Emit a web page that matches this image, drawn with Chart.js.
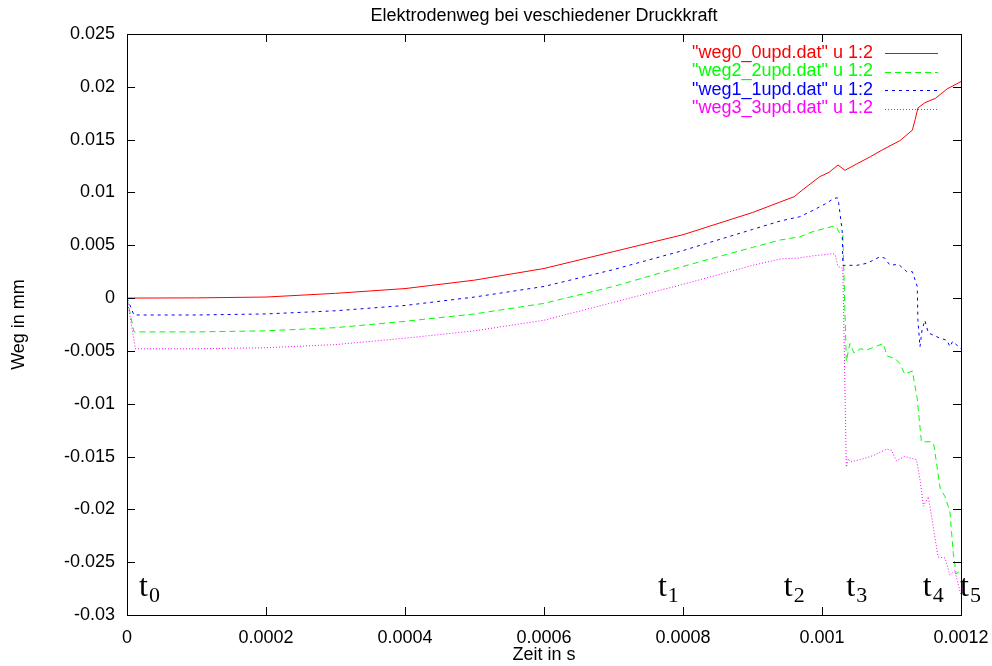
<!DOCTYPE html>
<html>
<head>
<meta charset="utf-8">
<script src="https://cdn.jsdelivr.net/npm/chart.js@4"></script>
<style>
  body { margin: 0; background: #fff; }
</style>
</head>
<body>
<canvas id="wegChart" width="992" height="666"></canvas>
<script>
const seriesNames = [
  '"weg0_0upd.dat" u 1:2',
  '"weg2_2upd.dat" u 1:2',
  '"weg1_1upd.dat" u 1:2',
  '"weg3_3upd.dat" u 1:2',
];
const seriesColors = ["#ff0000", "#00ff00", "#0000ff", "#ff00ff"];
const seriesDashes = [[], [6, 4], [3, 4], [1, 2]];

// time in s, displacement in mm
const weg0X = [0, 0.0001, 0.0002, 0.0003, 0.0004, 0.0005, 0.0006, 0.0007, 0.0008, 0.0009, 0.00094, 0.00096, 0.000973, 0.000987, 0.000997, 0.00101, 0.001023, 0.001033, 0.00105, 0.00107, 0.001086, 0.001112, 0.00113, 0.001134, 0.001138, 0.001148, 0.001163, 0.00118, 0.0012];
const weg0Y = [0, 0.00002, 0.0001, 0.00045, 0.0009, 0.0017, 0.0028, 0.0044, 0.006, 0.0081, 0.0091, 0.0096, 0.0103, 0.011, 0.0115, 0.0119, 0.0126, 0.0121, 0.0127, 0.0134, 0.014, 0.0149, 0.0159, 0.0169, 0.018, 0.0185, 0.0189, 0.0198, 0.0205];

const weg2X = [0, 0.00001, 0.0001, 0.0002, 0.0003, 0.0004, 0.0005, 0.0006, 0.0007, 0.0008, 0.0009, 0.00094, 0.000968, 0.000987, 0.001016, 0.00102, 0.001026, 0.00103, 0.001035, 0.00104, 0.001046, 0.001055, 0.001065, 0.001088, 0.001094, 0.001105, 0.001112, 0.001119, 0.00113, 0.001137, 0.001143, 0.001158, 0.001161, 0.00117, 0.001177, 0.001184, 0.001189, 0.001193, 0.0012];
const weg2Y = [0, -0.0032, -0.0032, -0.0031, -0.0028, -0.0022, -0.0015, -0.0005, 0.0011, 0.003, 0.0048, 0.0055, 0.0058, 0.0063, 0.0068, 0.0068, 0.0061, 0.006, -0.006, -0.0043, -0.0052, -0.0048, -0.0049, -0.0043, -0.0055, -0.0057, -0.0062, -0.0072, -0.0069, -0.0095, -0.0136, -0.0136, -0.0139, -0.018, -0.0188, -0.0202, -0.0242, -0.0261, -0.0258];

const weg1X = [0, 0.00001, 0.0001, 0.0002, 0.0003, 0.0004, 0.0005, 0.0006, 0.0007, 0.0008, 0.0009, 0.00094, 0.000968, 0.000987, 0.001007, 0.001016, 0.001022, 0.001024, 0.001029, 0.00103, 0.001036, 0.00105, 0.001065, 0.001083, 0.00109, 0.001098, 0.00111, 0.001122, 0.00113, 0.001137, 0.001138, 0.001141, 0.001144, 0.001148, 0.001153, 0.00117, 0.00118, 0.001184, 0.001188, 0.0012];
const weg1Y = [0, -0.0016, -0.0016, -0.0015, -0.0012, -0.0007, 0.0001, 0.0011, 0.0027, 0.0045, 0.0065, 0.0073, 0.0077, 0.0083, 0.009, 0.0094, 0.0095, 0.009, 0.0064, 0.0031, 0.0031, 0.0031, 0.0033, 0.0039, 0.0038, 0.0031, 0.0032, 0.0025, 0.0025, 0.0011, -0.0021, -0.0046, -0.003, -0.0021, -0.0033, -0.0038, -0.004, -0.0046, -0.0041, -0.0048];

const weg3X = [0, 0.000012, 0.0001, 0.0002, 0.0003, 0.0004, 0.0005, 0.0006, 0.0007, 0.0008, 0.0009, 0.00094, 0.000968, 0.000987, 0.001016, 0.001019, 0.001023, 0.00103, 0.001035, 0.001038, 0.001041, 0.001055, 0.001074, 0.001093, 0.0011, 0.001107, 0.001119, 0.001136, 0.001141, 0.001146, 0.001153, 0.00116, 0.001167, 0.001177, 0.001184, 0.001191, 0.0012];
const weg3Y = [0, -0.0048, -0.0048, -0.0047, -0.0044, -0.0038, -0.0031, -0.0021, -0.0004, 0.0013, 0.0031, 0.0037, 0.0038, 0.004, 0.0042, 0.0041, 0.003, 0.0028, -0.016, -0.0152, -0.0155, -0.0153, -0.0149, -0.0143, -0.0144, -0.0154, -0.015, -0.0153, -0.0172, -0.0197, -0.0188, -0.0216, -0.0245, -0.0246, -0.0262, -0.0258, -0.0281];

// time marks t0..t5 written along the bottom
const markTimes = [0.0000173, 0.000764, 0.000945, 0.001035, 0.001145, 0.0011986];
const markIndex = ["0", "1", "2", "3", "4", "5"];

const sansFont = "18px 'Liberation Sans', Arial, sans-serif";

const toPoints = (xs, ys) => xs.map((x, i) => ({ x: x, y: ys[i] }));
const seriesPoints = [
  toPoints(weg0X, weg0Y),
  toPoints(weg2X, weg2Y),
  toPoints(weg1X, weg1Y),
  toPoints(weg3X, weg3Y),
];

const gnuplotFrame = {
  id: "gnuplotFrame",
  afterDraw(chart) {
    const { ctx, chartArea: a, scales } = chart;
    const xs = scales.x;
    const ys = scales.y;
    ctx.save();

    // border + inside ticks on all four sides
    ctx.strokeStyle = "#000";
    ctx.lineWidth = 1;
    ctx.setLineDash([]);
    ctx.strokeRect(a.left + 0.5, a.top + 0.5, a.right - a.left, a.bottom - a.top);
    ctx.beginPath();
    xs.ticks.forEach((t) => {
      const px = Math.round(xs.getPixelForValue(t.value)) + 0.5;
      ctx.moveTo(px, a.bottom);
      ctx.lineTo(px, a.bottom - 8);
      ctx.moveTo(px, a.top);
      ctx.lineTo(px, a.top + 8);
    });
    ys.ticks.forEach((t) => {
      const py = Math.round(ys.getPixelForValue(t.value)) + 0.5;
      ctx.moveTo(a.left, py);
      ctx.lineTo(a.left + 8, py);
      ctx.moveTo(a.right, py);
      ctx.lineTo(a.right - 8, py);
    });
    ctx.stroke();

    // titles
    ctx.fillStyle = "#000";
    ctx.font = sansFont;
    ctx.textAlign = "center";
    ctx.textBaseline = "middle";
    const midX = (a.left + a.right) / 2;
    ctx.fillText("Elektrodenweg bei veschiedener Druckkraft", midX, 16);
    ctx.fillText("Zeit in s", midX, 655);
    ctx.save();
    ctx.translate(19, (a.top + a.bottom) / 2);
    ctx.rotate(-Math.PI / 2);
    ctx.fillText("Weg in mm", 0, 0);
    ctx.restore();

    // legend, text right aligned, line sample to the right
    ctx.textAlign = "right";
    seriesNames.forEach((name, i) => {
      const rowY = 53 + i * 18.5;
      ctx.fillStyle = seriesColors[i];
      ctx.fillText(name, 873, rowY);
      ctx.strokeStyle = seriesColors[i];
      ctx.setLineDash(seriesDashes[i]);
      ctx.beginPath();
      ctx.moveTo(885, Math.round(rowY) + 0.5);
      ctx.lineTo(938, Math.round(rowY) + 0.5);
      ctx.stroke();
    });
    ctx.setLineDash([]);

    // t marks
    ctx.fillStyle = "#000";
    ctx.textAlign = "left";
    ctx.textBaseline = "alphabetic";
    markTimes.forEach((tm, i) => {
      const px = xs.getPixelForValue(tm);
      const base = a.bottom - 19;
      ctx.font = "32px 'Liberation Serif', 'Times New Roman', serif";
      ctx.fillText("t", px, base);
      const w = ctx.measureText("t").width;
      ctx.font = "22px 'Liberation Serif', 'Times New Roman', serif";
      ctx.fillText(markIndex[i], px + w + 1, base + 6);
    });

    ctx.restore();
  },
};

const fmt = (v, d) => {
  const s = parseFloat(Number(v).toFixed(d)).toString();
  return s === "-0" ? "0" : s;
};

new Chart(document.getElementById("wegChart"), {
  type: "line",
  data: {
    datasets: seriesPoints.map((pts, i) => ({
      label: seriesNames[i],
      data: pts,
      borderColor: seriesColors[i],
      borderWidth: 1,
      borderDash: seriesDashes[i],
      pointRadius: 0,
      tension: 0,
      fill: false,
      order: 3 - i,
    })),
  },
  options: {
    responsive: false,
    animation: false,
    devicePixelRatio: 1,
    layout: { padding: { left: 0, top: 34, right: 31, bottom: 0 } },
    scales: {
      x: {
        type: "linear",
        min: 0,
        max: 0.0012,
        grid: { display: false },
        border: { display: false },
        ticks: {
          stepSize: 0.0002,
          color: "#000",
          font: { family: "'Liberation Sans', Arial, sans-serif", size: 18 },
          padding: 4,
          maxRotation: 0,
          callback: (v) => fmt(v, 4),
        },
        afterFit: (scale) => {
          scale.height = 51;
          scale.paddingLeft = 0;
          scale.paddingRight = 0;
        },
      },
      y: {
        type: "linear",
        min: -0.03,
        max: 0.025,
        grid: { display: false },
        border: { display: false },
        ticks: {
          stepSize: 0.005,
          color: "#000",
          font: { family: "'Liberation Sans', Arial, sans-serif", size: 18 },
          padding: 4,
          callback: (v) => fmt(v, 3),
        },
        afterFit: (scale) => {
          scale.width = 127;
          scale.paddingTop = 0;
          scale.paddingBottom = 0;
        },
      },
    },
    plugins: {
      legend: { display: false },
      title: { display: false },
      tooltip: { enabled: false },
    },
  },
  plugins: [gnuplotFrame],
});
</script>
</body>
</html>
